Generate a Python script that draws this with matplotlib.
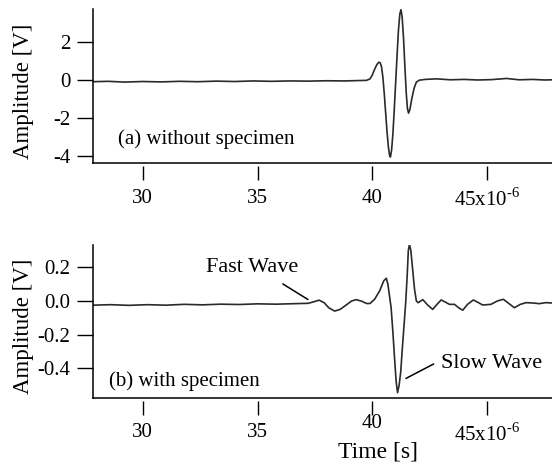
import matplotlib
matplotlib.use('Agg')
import matplotlib.pyplot as plt
import matplotlib.transforms as mtransforms

plt.rcParams['font.family'] = ['Liberation Serif', 'DejaVu Serif']
plt.rcParams['mathtext.fontset'] = 'custom'
plt.rcParams['mathtext.rm'] = 'Liberation Serif'
plt.rcParams['axes.unicode_minus'] = False

# time in microseconds, amplitude in volts
time_a = [27.82, 28.5, 29.2, 30.0, 30.8, 31.6, 32.4, 33.2, 34.0, 34.8, 35.6,
          36.4, 37.2, 38.0, 38.8, 39.4, 39.75, 39.9, 40.0, 40.1, 40.2, 40.28,
          40.34, 40.4, 40.46, 40.52, 40.58, 40.64, 40.7, 40.75, 40.79, 40.84,
          40.9, 40.96, 41.02, 41.08, 41.14, 41.2, 41.25, 41.3, 41.36, 41.42,
          41.48, 41.53, 41.58, 41.64, 41.72, 41.82, 41.92, 42.05, 42.3, 42.8,
          43.4, 44.0, 44.6, 45.2, 45.85, 46.4, 47.0, 47.5, 47.85]
amp_a = [-0.10, -0.08, -0.12, -0.09, -0.11, -0.08, -0.10, -0.07, -0.09, -0.06,
         -0.08, -0.06, -0.07, -0.05, -0.06, -0.04, -0.03, 0.05, 0.25, 0.55,
         0.8, 0.92, 0.9, 0.7, 0.15, -0.7, -1.7, -2.7, -3.5, -3.95, -4.05,
         -3.7, -2.8, -1.5, -0.1, 1.3, 2.6, 3.45, 3.68, 3.3, 2.2, 0.7, -0.7,
         -1.5, -1.75, -1.55, -1.0, -0.45, -0.12, -0.02, 0.02, 0.05, 0.0, 0.02,
         -0.01, 0.01, 0.07, 0.0, 0.02, -0.01, 0.0]

time_b = [27.82, 28.6, 29.4, 30.2, 31.0, 31.8, 32.6, 33.4, 34.2, 35.0, 35.8,
          36.6, 37.2, 37.45, 37.68, 37.9, 38.1, 38.36, 38.6, 38.9, 39.1, 39.3,
          39.55, 39.75, 39.9, 40.1, 40.32, 40.5, 40.61, 40.68, 40.75, 40.82,
          40.9, 40.97, 41.04, 41.1, 41.17, 41.24, 41.3, 41.38, 41.46, 41.52,
          41.57, 41.62, 41.68, 41.75, 41.84, 41.92, 42.0, 42.2, 42.42, 42.63,
          42.82, 43.0, 43.2, 43.36, 43.58, 43.76, 43.94, 44.15, 44.4, 44.6,
          44.81, 45.17, 45.45, 45.71, 45.95, 46.19, 46.45, 46.7, 47.0, 47.27,
          47.55, 47.85]
amp_b = [-0.025, -0.022, -0.026, -0.022, -0.025, -0.02, -0.023, -0.019,
         -0.021, -0.017, -0.019, -0.016, -0.014, -0.005, 0.005, -0.01, -0.04,
         -0.06, -0.05, -0.02, 0.0, 0.008, -0.002, -0.015, -0.015, 0.01, 0.06,
         0.12, 0.135, 0.1, 0.03, -0.04, -0.19, -0.34, -0.48, -0.545, -0.5,
         -0.42, -0.3, -0.15, 0.0, 0.15, 0.3, 0.337, 0.3, 0.2, 0.07, 0.0,
         -0.01, 0.008, -0.025, -0.05, -0.02, 0.006, -0.008, -0.02, -0.02,
         -0.04, -0.055, -0.02, 0.006, -0.008, -0.024, -0.02, 0.0, 0.01,
         -0.015, -0.04, -0.02, -0.01, -0.012, -0.016, -0.01, -0.012]

x_ticks = [30, 35, 40, 45]
x_ticklabels = ['30', '35', '40', r'45x10$^{\text{-6}}$']
yticks_a = [-4, -2, 0, 2]
yticks_b = [-0.4, -0.2, 0.0, 0.2]
yticklabels_b = ['-0.4', '-0.2', '0.0', '0.2']

fig = plt.figure(figsize=(5.52, 4.66), dpi=100)
ax_a = fig.add_axes([0.1676, 0.6496, 0.8324, 0.3305])
ax_b = fig.add_axes([0.1676, 0.1466, 0.8324, 0.3277])


def style_axis(ax):
    for side in ['top', 'right']:
        ax.spines[side].set_visible(False)
    ax.spines['left'].set_linewidth(1.1)
    # ticks sit a little below the bottom frame line
    ax.spines['bottom'].set_position(('outward', 2.2))
    ax.spines['bottom'].set_visible(False)
    ax.plot([0, 1], [0, 0], transform=ax.transAxes, color='black',
            lw=1.1, clip_on=False)
    ax.set_xlim(27.81, 47.83)
    ax.set_xticks(x_ticks)
    ax.tick_params(axis='x', direction='out', length=10, width=1.0,
                   pad=6, labelsize=15)
    ax.tick_params(axis='y', direction='out', length=11.5, width=1.0,
                   pad=4.5, labelsize=15)
    ax.set_ylabel('Amplitude [V]', fontsize=16.5)
    ax.yaxis.set_label_coords(-0.128, 0.465)


ax_a.plot(time_a, amp_a, color='#2a2a2a', lw=1.2)
style_axis(ax_a)
ax_a.set_ylim(-4.38, 3.70)
ax_a.set_yticks(yticks_a)
ax_a.set_yticklabels([str(v) for v in yticks_a])
ax_a.set_xticklabels(x_ticklabels)
ax_a.text(0.0555, 0.154, '(a) without specimen', transform=ax_a.transAxes,
          fontsize=15, ha='left', va='center')

ax_b.plot(time_b, amp_b, color='#2a2a2a', lw=1.2)
style_axis(ax_b)
ax_b.set_ylim(-0.575, 0.333)
ax_b.set_yticks(yticks_b)
ax_b.set_yticklabels(yticklabels_b)
# the "40" label is lifted to make room for the axis title
ax_b.set_xticklabels(['' if v == 40 else lab
                      for v, lab in zip(x_ticks, x_ticklabels)])
trans = mtransforms.blended_transform_factory(ax_b.transData, ax_b.transAxes)
ax_b.text(40, -0.166, '40', transform=trans, fontsize=15,
          ha='center', va='center')
ax_b.set_xlabel('Time [s]', fontsize=17)
ax_b.xaxis.set_label_coords(0.622, -0.29)
ax_b.text(0.0366, 0.111, '(b) with specimen', transform=ax_b.transAxes,
          fontsize=15, ha='left', va='center')

ax_b.annotate('', xy=(37.3, 0.0), xytext=(36.0, 0.11),
              arrowprops=dict(arrowstyle='-', color='black', lw=1.1))
ax_b.text(32.77, 0.20, 'Fast Wave', fontsize=16, ha='left', va='center')
ax_b.annotate('', xy=(41.36, -0.468), xytext=(42.78, -0.367),
              arrowprops=dict(arrowstyle='-', color='black', lw=1.1))
ax_b.text(42.98, -0.37, 'Slow Wave', fontsize=16, ha='left', va='center')

fig.savefig('out.png', dpi=100)
plt.close(fig)
